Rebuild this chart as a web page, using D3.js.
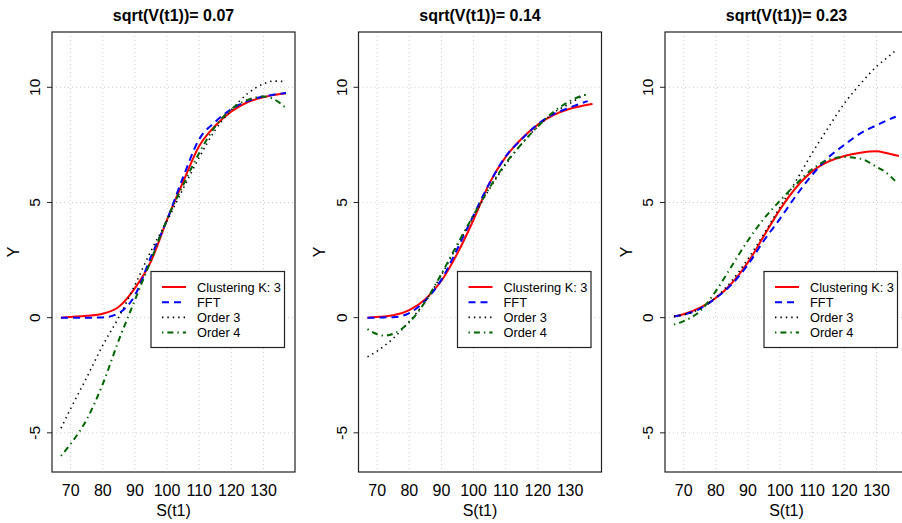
<!DOCTYPE html>
<html>
<head>
<meta charset="utf-8">
<script src="https://cdn.jsdelivr.net/npm/d3@7"></script>
<style>
  body { margin: 0; background: #fff; }
  svg { display: block; font-family: "Liberation Sans", Arial, sans-serif; }
</style>
</head>
<body>
<svg id="chart"></svg>
<script>
// panel titles
const titles = ["sqrt(V(t1))= 0.07", "sqrt(V(t1))= 0.14", "sqrt(V(t1))= 0.23"];
const seriesNames = ["Clustering K: 3", "FFT", "Order 3", "Order 4"];
const xTicks = [70, 80, 90, 100, 110, 120, 130];
const yTicks = [-5, 0, 5, 10];

// panel 1: sqrt(V)=0.07
const x1 = [67, 70, 75, 80, 85, 90, 95, 100, 105, 110, 115, 120, 125, 130, 133, 137];
const clust1 = [0.0, 0.03, 0.08, 0.17, 0.47, 1.28, 2.45, 4.25, 5.9, 7.45, 8.33, 8.95, 9.35, 9.57, 9.66, 9.74];
const fft1 = [0.0, 0.0, 0.0, 0.01, 0.2, 0.97, 2.65, 4.25, 6.1, 7.75, 8.5, 9.05, 9.4, 9.6, 9.68, 9.75];
const ord3_1 = [-4.8, -3.95, -2.6, -1.2, 0.02, 1.42, 2.9, 4.2, 5.6, 6.95, 8.15, 9.02, 9.72, 10.15, 10.27, 10.25];
const ord4_1 = [-6.0, -5.48, -4.42, -2.88, -0.97, 0.77, 2.5, 4.27, 5.75, 7.15, 8.3, 9.05, 9.45, 9.6, 9.5, 9.1];

// panel 2: sqrt(V)=0.14
const x2 = [67, 70, 72, 75, 80, 85, 90, 95, 100, 105, 110, 115, 120, 125, 130, 133, 135.5, 137];
const clust2 = [0.0, 0.03, 0.05, 0.1, 0.33, 0.8, 1.6, 2.8, 4.25, 5.85, 6.98, 7.78, 8.38, 8.8, 9.07, 9.17, 9.24, 9.28];
const fft2 = [0.0, 0.0, 0.01, 0.02, 0.2, 0.75, 1.65, 3.0, 4.45, 5.85, 7.0, 7.75, 8.4, 8.85, 9.12, 9.28, 9.4, null];
const ord3_2 = [-1.7, -1.45, -1.25, -0.9, -0.17, 0.72, 1.85, 3.15, 4.4, 5.6, 6.65, 7.55, 8.3, 8.9, 9.3, 9.55, 9.72, null];
const ord4_2 = [-0.5, -0.72, -0.78, -0.7, -0.2, 0.7, 1.9, 3.2, 4.45, 5.65, 6.7, 7.55, 8.3, 8.95, 9.4, 9.6, 9.7, null];

// panel 3: sqrt(V)=0.23
const x3 = [67, 70, 75, 80, 85, 90, 95, 100, 105, 110, 115, 120, 125, 130, 133, 136, 137];
const clust3 = [0.05, 0.15, 0.42, 0.85, 1.5, 2.4, 3.55, 4.7, 5.65, 6.35, 6.77, 7.02, 7.16, 7.22, 7.15, 7.05, 7.02];
const fft3 = [0.05, 0.13, 0.38, 0.85, 1.45, 2.3, 3.35, 4.3, 5.3, 6.2, 6.95, 7.5, 8.0, 8.35, 8.55, 8.72, null];
const ord3_3 = [0.05, 0.12, 0.38, 0.88, 1.6, 2.55, 3.65, 4.8, 5.95, 7.15, 8.25, 9.3, 10.15, 10.9, 11.25, 11.6, null];
const ord4_3 = [-0.3, -0.15, 0.27, 1.15, 2.25, 3.35, 4.3, 5.08, 5.8, 6.45, 6.85, 6.97, 6.9, 6.55, 6.3, 5.9, null];

const panels = [
  { title: titles[0], x: x1, ys: [clust1, fft1, ord3_1, ord4_1] },
  { title: titles[1], x: x2, ys: [clust2, fft2, ord3_2, ord4_2] },
  { title: titles[2], x: x3, ys: [clust3, fft3, ord3_3, ord4_3] }
];

const styles = [
  { color: "#ff0000", width: 2, dash: null },
  { color: "#0000ff", width: 2, dash: "7,5" },
  { color: "#000000", width: 1.6, dash: "1.4,4" },
  { color: "#006400", width: 2, dash: "1.4,4,6,4" }
];

const W = 902, H = 523;
const panelLefts = [52, 358.5, 665];
const pw = 243, plotTop = 32, plotBottom = 472;

const svg = d3.select("#chart").attr("width", W).attr("height", H);

const xScale = d3.scaleLinear().domain([64.2, 139.8]).range([0, pw]);
const yScale = d3.scaleLinear().domain([-6.7, 12.4]).range([plotBottom, plotTop]);

panels.forEach(function (p, k) {
  var g = svg.append("g").attr("transform", "translate(" + panelLefts[k] + ",0)");

  g.append("clipPath")
    .attr("id", "clip" + k)
    .append("rect")
    .attr("x", 0)
    .attr("y", plotTop)
    .attr("width", pw)
    .attr("height", plotBottom - plotTop);

  // grid
  g.selectAll(".gx")
    .data(xTicks)
    .enter()
    .append("line")
    .attr("x1", d => xScale(d))
    .attr("x2", d => xScale(d))
    .attr("y1", plotTop)
    .attr("y2", plotBottom)
    .attr("stroke", "#d0d0d0")
    .attr("stroke-dasharray", "1,3");
  g.selectAll(".gy")
    .data(yTicks)
    .enter()
    .append("line")
    .attr("x1", 0)
    .attr("x2", pw)
    .attr("y1", d => yScale(d))
    .attr("y2", d => yScale(d))
    .attr("stroke", "#d0d0d0")
    .attr("stroke-dasharray", "1,3");

  // curves
  var plot = g.append("g").attr("clip-path", "url(#clip" + k + ")");
  p.ys.forEach(function (ys, s) {
    var pts = p.x.map((xv, i) => [xv, ys[i]]);
    var line = d3
      .line()
      .defined(d => d[1] !== null)
      .x(d => xScale(d[0]))
      .y(d => yScale(d[1]))
      .curve(d3.curveMonotoneX);
    plot
      .append("path")
      .attr("d", line(pts))
      .attr("fill", "none")
      .attr("stroke", styles[s].color)
      .attr("stroke-width", styles[s].width)
      .attr("stroke-dasharray", styles[s].dash);
  });

  // box
  g.append("rect")
    .attr("x", 0)
    .attr("y", plotTop)
    .attr("width", pw)
    .attr("height", plotBottom - plotTop)
    .attr("fill", "none")
    .attr("stroke", "#222")
    .attr("stroke-width", 1.2);

  // y axis ticks (rotated labels)
  g.selectAll(".yt")
    .data(yTicks)
    .enter()
    .append("line")
    .attr("x1", -5)
    .attr("x2", 0)
    .attr("y1", d => yScale(d))
    .attr("y2", d => yScale(d))
    .attr("stroke", "#222");
  g.selectAll(".yl")
    .data(yTicks)
    .enter()
    .append("text")
    .attr("transform", d => "translate(-12," + yScale(d) + ")rotate(-90)")
    .attr("text-anchor", "middle")
    .style("font-size", "15.5px")
    .text(d => d);

  // x tick labels
  g.selectAll(".xl")
    .data(xTicks)
    .enter()
    .append("text")
    .attr("x", d => xScale(d))
    .attr("y", 496)
    .attr("text-anchor", "middle")
    .style("font-size", "16px")
    .text(d => d);

  g.append("text")
    .attr("x", pw / 2)
    .attr("y", 516)
    .attr("text-anchor", "middle")
    .style("font-size", "16px")
    .text("S(t1)");

  g.append("text")
    .attr("transform", "translate(-33.5," + (plotTop + plotBottom) / 2 + ")rotate(-90)")
    .attr("text-anchor", "middle")
    .style("font-size", "16px")
    .text("Y");

  g.append("text")
    .attr("x", pw / 2)
    .attr("y", 21)
    .attr("text-anchor", "middle")
    .style("font-size", "16px")
    .style("font-weight", "bold")
    .text(p.title);

  // legend
  var lx = 99, ly = 271.5;
  var leg = g.append("g").attr("transform", "translate(" + lx + "," + ly + ")");
  leg.append("rect")
    .attr("width", 133.5)
    .attr("height", 76)
    .attr("fill", "#fff")
    .attr("stroke", "#222")
    .attr("stroke-width", 1.2);
  seriesNames.forEach(function (name, s) {
    var yy = 15.5 + s * 15.2;
    leg.append("line")
      .attr("x1", 11)
      .attr("x2", 35)
      .attr("y1", yy)
      .attr("y2", yy)
      .attr("stroke", styles[s].color)
      .attr("stroke-width", styles[s].width)
      .attr("stroke-dasharray", styles[s].dash);
    leg.append("text")
      .attr("x", 46)
      .attr("y", yy)
      .attr("dy", "0.36em")
      .style("font-size", "12.8px")
      .text(name);
  });
});
</script>
</body>
</html>
